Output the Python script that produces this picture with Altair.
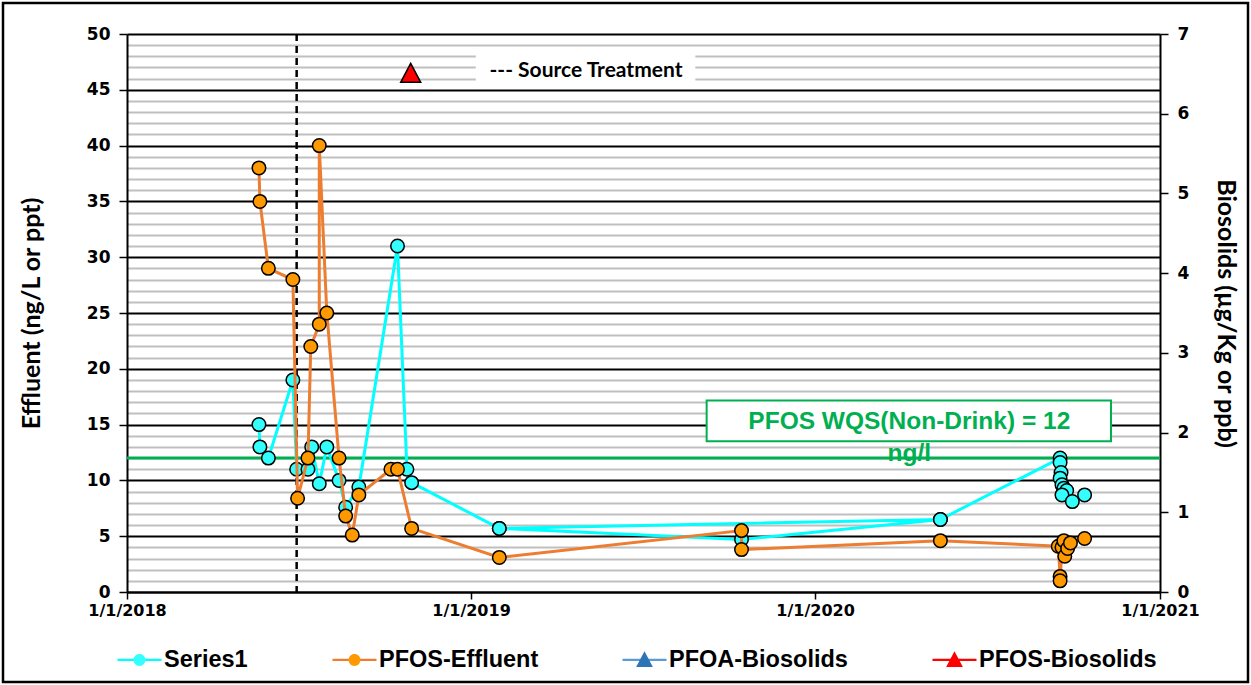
import altair as alt
import pandas as pd

# ---- data -------------------------------------------------------------
# Series1 samples, listed in the order the series was plotted
series1_dates = [
    "2018-05-21", "2018-05-22", "2018-05-31", "2018-06-26", "2018-06-30",
    "2018-07-12", "2018-07-16", "2018-07-24", "2018-08-01", "2018-08-14",
    "2018-08-21", "2018-09-04", "2018-10-15", "2018-10-25", "2018-10-30",
    "2019-01-31", "2020-05-13", "2019-01-31", "2019-10-15", "2020-05-13",
    "2020-09-17", "2020-09-17", "2020-09-18", "2020-09-17", "2020-09-19",
    "2020-09-21", "2020-09-24", "2020-09-19", "2020-09-30", "2020-10-13",
]
series1_values = [
    15, 13, 12, 19, 11,
    11, 13, 9.7, 13, 10,
    7.6, 9.4, 31, 11, 9.8,
    5.7, 6.5, 5.7, 4.7, 6.5,
    12, 11.6, 10.7, 10.2, 9.6,
    9.3, 9.1, 8.7, 8.1, 8.7,
]

# PFOS in effluent (ng/L)
pfos_eff_dates = [
    "2018-05-21", "2018-05-22", "2018-05-31", "2018-06-26", "2018-07-01",
    "2018-07-12", "2018-07-15", "2018-07-24", "2018-07-24", "2018-08-01",
    "2018-08-14", "2018-08-21", "2018-08-28", "2018-09-04", "2018-10-08",
    "2018-10-15", "2018-10-30", "2019-01-31", "2019-10-15", "2019-10-15",
    "2020-05-13", "2020-09-15", "2020-09-17", "2020-09-17", "2020-09-19",
    "2020-09-21", "2020-09-22", "2020-09-25", "2020-09-28", "2020-10-13",
]
pfos_eff_values = [
    38, 35, 29, 28, 8.4,
    12, 22, 24, 40, 25,
    12, 6.8, 5.1, 8.7, 11,
    11, 5.7, 3.1, 5.5, 3.8,
    4.6, 4.1, 1.4, 1.0, 4.0,
    4.6, 3.2, 3.9, 4.4, 4.8,
]

# PFOS in biosolids (ug/Kg), right-hand axis
pfos_bio_dates = ["2018-10-29"]
pfos_bio_values = [6.5]

series_names = ["Series1", "PFOS-Effluent", "PFOA-Biosolids", "PFOS-Biosolids"]
line_colors = ["#00FFFF", "#ED7D31", "#5B9BD5", "#FF0000"]
marker_fills = ["#33FFFF", "#FF9900", "#2E75B6", "#FF0000"]
marker_kinds = ["circle", "circle", "triangle", "triangle"]

x_tick_years = [2018, 2019, 2020, 2021]
left_ticks = list(range(0, 51))
right_ticks = list(range(0, 8))

wqs_value = 12
wqs_label = ["PFOS WQS(Non-Drink) = 12", "ng/l"]
treatment_date = "2018-06-30"
treatment_label = "--- Source Treatment"

# ---- styling ------------------------------------------------------------
NUM_FONT = "DejaVu Sans"
TITLE_FONT = "Lato"
LEGEND_FONT = "Liberation Sans"
LEGEND_SIZE = 23.5
GREEN = "#00B050"

# Liberation Sans Bold advance widths (per 1000 em) for the legend labels
ADV = {"S": 667, "e": 556, "r": 389, "i": 278, "s": 556, "1": 556, "P": 667,
       "F": 611, "O": 778, "-": 333, "E": 667, "f": 333, "l": 278, "u": 611,
       "n": 611, "t": 333, "A": 722, "B": 722, "o": 611, "d": 611}


def label_width(text):
    return sum(ADV[c] for c in text) * LEGEND_SIZE / 1000.0


# Both legends (line swatches and labelled markers) share one symbol size
# and stroke width; every symbol carries the same invisible extent points,
# so the two legends lay out their entries identically and overlay exactly.
HALF = 22.0                      # half length of the line swatch, px
SYM_SIZE = (2 * HALF) ** 2
SYM_STROKE = 2.25
LABEL_OFFSET = 1
OFFSET = 47                      # ceil(2*HALF + SYM_STROKE)


def extent_points(name):
    label_right = OFFSET + LABEL_OFFSET - OFFSET / 2 + label_width(name)
    r = (label_right + 3) / HALF
    v = 16 / HALF
    return (f"M-1,0L-1,0M{r:.4f},0L{r:.4f},0"
            f"M0,{-v:.4f}L0,{-v:.4f}M0,{v:.4f}L0,{v:.4f}")


MARKERS = {
    "circle": "M0.27,0A0.27,0.27,0,1,1,-0.27,0A0.27,0.27,0,1,1,0.27,0Z",
    "triangle": "M0,-0.4L0.38,0.32L-0.38,0.32Z",
}
marker_paths = [extent_points(n) + MARKERS[k] for n, k in zip(series_names, marker_kinds)]

swatch_expr = "".join(
    f"datum.value === '{n} ' ? 'M-1,0H1{extent_points(n)}' : " for n in series_names
) + "'M-1,0H1'"

# ---- tables -------------------------------------------------------------
eff = pd.DataFrame({
    "date": series1_dates + pfos_eff_dates,
    "value": series1_values + pfos_eff_values,
    "series": ["Series1"] * len(series1_dates) + ["PFOS-Effluent"] * len(pfos_eff_dates),
    "seq": list(range(len(series1_dates))) + list(range(len(pfos_eff_dates))),
})
eff["line_key"] = eff["series"] + " "

bio = pd.DataFrame({
    "date": pfos_bio_dates,
    "value": pfos_bio_values,
    "series": ["PFOS-Biosolids"] * len(pfos_bio_dates),
})

wqs_box = pd.DataFrame({"date": ["2019-09-08"], "date2": ["2020-11-10"],
                        "value": [17.17], "value2": [13.5]})
wqs_text = pd.DataFrame({"date": ["2020-04-10", "2020-04-10"],
                         "value": [15.2, 12.4], "label": wqs_label})
src_box = pd.DataFrame({"date": ["2019-01-06"], "date2": ["2019-08-27"],
                        "value": [48.6], "value2": [45.45]})
src_text = pd.DataFrame({"date": ["2019-05-03"], "value": [46.7], "label": [treatment_label]})
wqs_df = pd.DataFrame({"value": [wqs_value]})
treat_df = pd.DataFrame({"date": [treatment_date]})

# ---- encodings ----------------------------------------------------------
def utc_day(y):
    return alt.DateTime(year=y, month=1, date=1, utc=True)


x_axis = alt.Axis(
    title=None, values=[utc_day(y) for y in x_tick_years], format="%-m/%-d/%Y",
    labelFont=NUM_FONT, labelFontSize=16, labelFontWeight="bold", labelColor="black",
    tickColor="black", tickSize=7, tickWidth=1.5, labelPadding=3,
    domainColor="black", domainWidth=2, grid=False, labelFlush=False,
)
x_enc = alt.X("date:T", axis=x_axis,
              scale=alt.Scale(type="utc", domain=[utc_day(2018), utc_day(2021)]))

major = "datum.value % 5 === 0"
y_left_axis = alt.Axis(
    title="Effluent (ng/L or ppt)", values=left_ticks,
    labelExpr=f"{major} ? datum.label : ''", labelOverlap=False,
    labelFont=NUM_FONT, labelFontSize=17, labelFontWeight="bold", labelColor="black",
    labelPadding=9,
    titleFont=TITLE_FONT, titleFontSize=25, titleFontWeight="bold", titleColor="black",
    titlePadding=42,
    grid=True, gridWidth=2,
    gridColor={"condition": {"test": major, "value": "#000000"}, "value": "#BFBFBF"},
    tickColor={"condition": {"test": major, "value": "#000000"}, "value": "transparent"},
    tickSize=8, tickWidth=1.5, domainColor="black", domainWidth=2,
)
y_left = alt.Y("value:Q", axis=y_left_axis,
               scale=alt.Scale(domain=[0, 50], nice=False, zero=True))

y_right_axis = alt.Axis(
    orient="right", title="Biosolids (µg/Kg or ppb)", values=right_ticks,
    labelFont=NUM_FONT, labelFontSize=17, labelFontWeight="bold", labelColor="black",
    labelPadding=9,
    titleFont=TITLE_FONT, titleFontSize=25, titleFontWeight="bold", titleColor="black",
    titlePadding=24,
    grid=False, tickColor="black", tickSize=8, tickWidth=1.5,
    domainColor="black", domainWidth=2,
)
y_right = alt.Y("value:Q", axis=y_right_axis,
                scale=alt.Scale(domain=[0, 7], nice=False, zero=True))

legend_common = dict(
    orient="none", legendX=-11, legendY=602, direction="horizontal", columns=4,
    title=None, labelFont=LEGEND_FONT, labelFontSize=LEGEND_SIZE, labelFontWeight="bold",
    labelLimit=400, columnPadding=72, labelOffset=LABEL_OFFSET, padding=0,
    symbolSize=SYM_SIZE, symbolStrokeWidth=SYM_STROKE,
)
# line swatches: no text of their own, drawn underneath the marker legend
line_legend = alt.Legend(**legend_common, symbolType={"expr": swatch_expr}, labelExpr="''")
marker_legend = alt.Legend(**legend_common, symbolStrokeColor="black", labelColor="black")

color_enc = alt.Color("line_key:N", legend=line_legend,
                      scale=alt.Scale(domain=[n + " " for n in series_names], range=line_colors))
fill_enc = alt.Fill("series:N", legend=marker_legend,
                    scale=alt.Scale(domain=series_names, range=marker_fills))
shape_enc = alt.Shape("series:N", legend=marker_legend,
                      scale=alt.Scale(domain=series_names, range=marker_paths))

# ---- layers -------------------------------------------------------------
frame = alt.Chart(pd.DataFrame({"k": [0]})).mark_rect(
    filled=False, stroke="black", strokeWidth=2.5
).encode(x=alt.value(-124), x2=alt.value(1121), y=alt.value(-31), y2=alt.value(648))

wqs_rule = alt.Chart(wqs_df).mark_rule(color=GREEN, strokeWidth=3).encode(y=y_left)
treat_rule = alt.Chart(treat_df).mark_rule(
    color="black", strokeWidth=2.5, strokeDash=[7, 5]
).encode(x=x_enc)

src_rect = alt.Chart(src_box).mark_rect(fill="white").encode(
    x=x_enc, x2="date2:T", y=y_left, y2="value2:Q")
src_label = alt.Chart(src_text).mark_text(
    font=TITLE_FONT, fontSize=21, fontWeight="bold", color="black"
).encode(x=x_enc, y=y_left, text="label:N")

wqs_rect = alt.Chart(wqs_box).mark_rect(fill="white", stroke=GREEN, strokeWidth=2).encode(
    x=x_enc, x2="date2:T", y=y_left, y2="value2:Q")
wqs_label_layer = alt.Chart(wqs_text).mark_text(
    font="Liberation Sans", fontSize=24.5, fontWeight="bold", color=GREEN
).encode(x=x_enc, y=y_left, text="label:N")


def series_layers(name):
    sub = alt.Chart(eff).transform_filter(alt.datum.series == name)
    line = sub.mark_line(strokeWidth=3).encode(
        x=x_enc, y=y_left, color=color_enc, order="seq:Q")
    pts = sub.mark_point(
        filled=True, stroke="black", strokeWidth=1.5, opacity=1, size=2500
    ).encode(x=x_enc, y=y_left, fill=fill_enc, shape=shape_enc)
    return [line, pts]


left = alt.layer(
    wqs_rule, treat_rule, src_rect, src_label, wqs_rect, wqs_label_layer,
    *series_layers("Series1"), *series_layers("PFOS-Effluent"), frame,
)

right = alt.Chart(bio).mark_point(
    filled=True, stroke="black", strokeWidth=1.5, opacity=1, size=2770
).encode(x=x_enc, y=y_right, fill=fill_enc, shape=shape_enc)

chart = alt.layer(left, right).resolve_scale(y="independent").properties(
    width=1033, height=558,
    autosize=alt.AutoSizeParams(type="none"),
    padding={"left": 127, "top": 34, "right": 91, "bottom": 93},
    background="white",
).configure_view(stroke=None)

chart.save("out.html", embed_options={"renderer": "svg", "actions": False})
